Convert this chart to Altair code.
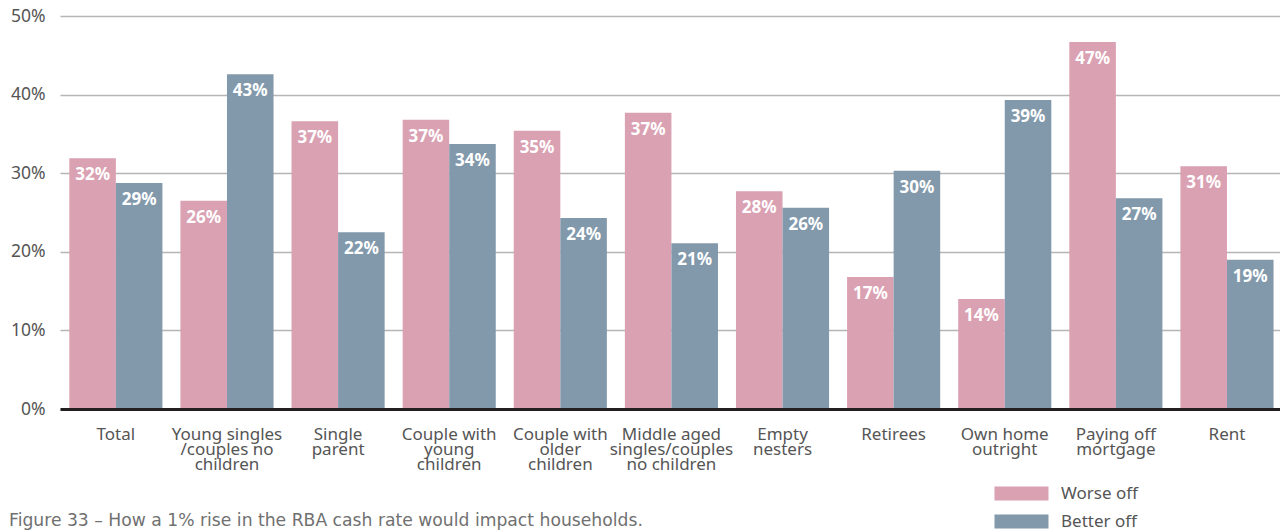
import altair as alt
import pandas as pd

categories = [
    "Total",
    "Young singles|/couples no|children",
    "Single|parent",
    "Couple with|young|children",
    "Couple with|older|children",
    "Middle aged|singles/couples|no children",
    "Empty|nesters",
    "Retirees",
    "Own home|outright",
    "Paying off|mortgage",
    "Rent",
]
series = ["Worse off", "Better off"]
worse_off = [31.9, 26.5, 36.6, 36.8, 35.4, 37.7, 27.7, 16.8, 14.0, 46.7, 30.9]
better_off = [28.75, 42.6, 22.5, 33.7, 24.3, 21.1, 25.6, 30.3, 39.3, 26.8, 19.0]
worse_labels = ["32%", "26%", "37%", "37%", "35%", "37%", "28%", "17%", "14%", "47%", "31%"]
better_labels = ["29%", "43%", "22%", "34%", "24%", "21%", "26%", "30%", "39%", "27%", "19%"]
colors = ["#daa1b3", "#8299ab"]
y_ticks = [0, 0.1, 0.2, 0.3, 0.4, 0.5]
caption = ["Figure 33 \u2013 How a 1% rise in the RBA cash rate would impact households."]

rows = []
for i, c in enumerate(categories):
    rows.append({"category": c, "series": series[0], "value": worse_off[i] / 100, "label": worse_labels[i]})
    rows.append({"category": c, "series": series[1], "value": better_off[i] / 100, "label": better_labels[i]})
df = pd.DataFrame(rows)

FONT = "Noto Sans"

x = alt.X(
    "category:N",
    sort=categories,
    title=None,
    scale=alt.Scale(paddingInner=0.162, paddingOuter=0.071, align=0.59),
    axis=alt.Axis(
        labelAngle=0,
        labelExpr="split(datum.label, '|')",
        labelFontSize=17,
        labelLineHeight=15,
        labelColor="#555555",
        labelFont=FONT,
        labelPadding=17,
        ticks=False,
        domainColor="#231f20",
        domainWidth=3,
        zindex=1,
    ),
)
xo = alt.XOffset("series:N", sort=series, scale=alt.Scale(paddingInner=0, paddingOuter=0))
y = alt.Y(
    "value:Q",
    title=None,
    scale=alt.Scale(domain=[0, 0.5], nice=False),
    axis=alt.Axis(
        values=y_ticks,
        format=".0%",
        labelFontSize=17.5,
        labelColor="#555555",
        labelFont=FONT,
        labelPadding=15,
        ticks=False,
        domain=False,
        gridColor="#b5b5b5",
        gridWidth=1.5,
    ),
)

base = alt.Chart(df).encode(x=x, xOffset=xo, y=y)

bars = base.mark_bar().encode(
    color=alt.Color(
        "series:N",
        sort=series,
        scale=alt.Scale(domain=series, range=colors),
        legend=alt.Legend(
            title=None,
            orient="none",
            legendX=953,
            legendY=469,
            symbolType="M-3.857,-1L3.857,-1L3.857,1L-3.857,1Z",
            symbolSize=196,
            symbolStrokeWidth=0,
            symbolOpacity=1,
            labelOffset=31,
            labelFontSize=17,
            labelFont=FONT,
            labelColor="#555555",
            rowPadding=10,
        ),
    )
)

text = base.mark_text(
    color="white",
    fontWeight="bold",
    fontSize=17,
    font=FONT,
    baseline="middle",
    dy=17,
).encode(text="label:N")

cap = (
    alt.Chart(pd.DataFrame({"t": caption}))
    .mark_text(
        align="left",
        baseline="alphabetic",
        fontSize=17.2,
        font="DejaVu Sans",
        color="#707070",
    )
    .encode(text="t:N", x=alt.value(-51), y=alt.value(510))
)

chart = (
    alt.layer(bars, text, cap)
    .properties(
        width=1220,
        height=393,
        padding={"left": 52, "top": 8, "right": 0, "bottom": 123},
        autosize="none",
    )
    .configure_view(stroke=None)
)

chart.save("out.html", embed_options={"renderer": "svg", "actions": False})
